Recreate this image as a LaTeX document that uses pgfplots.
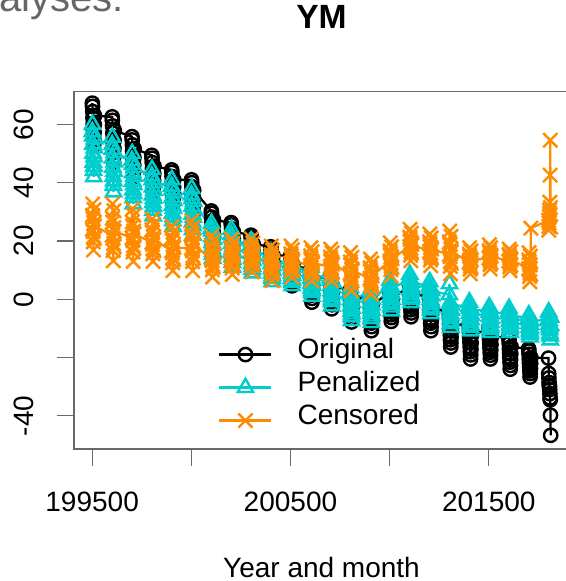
\documentclass[border=0pt]{standalone}
\usepackage{fontspec}
\setmainfont{Liberation Sans}
\usepackage{pgfplots}
\usepackage{pgfplotstable}
\pgfplotsset{compat=1.18}

\definecolor{penc}{RGB}{0,205,205}
\definecolor{cenc}{RGB}{255,140,0}
\definecolor{framec}{RGB}{105,105,105}

% ym = year*100 + month; B = Original, C = Penalized, O = Censored
\pgfplotstableread{
ym B C O
199501 67.3 57.5 24.0
199502 66.2 60.0 28.8
199503 64.4 56.0 32.7
199504 62.2 53.2 27.6
199505 60.2 50.1 23.2
199506 58.1 47.0 19.7
199507 56.1 44.2 16.9
199508 53.0 42.0 21.6
199509 54.7 45.6 26.1
199510 57.3 48.8 30.8
199511 59.9 51.9 20.9
199512 63.0 55.0 25.1
199601 62.6 53.0 22.0
199602 61.4 55.6 27.8
199603 59.5 51.5 32.7
199604 57.0 48.5 26.5
199605 54.8 45.3 21.0
199606 52.6 42.1 16.7
199607 50.4 39.1 13.2
199608 47.0 36.8 19.1
199609 48.9 40.6 24.5
199610 51.7 43.9 30.4
199611 54.5 47.1 18.1
199612 57.9 50.3 23.3
199701 55.8 47.6 21.1
199702 54.7 50.0 26.5
199703 53.0 46.2 31.0
199704 50.8 43.4 25.2
199705 48.9 40.5 20.2
199706 47.0 37.5 16.2
199707 45.0 34.8 13.0
199708 42.0 32.7 18.4
199709 43.7 36.2 23.4
199710 46.1 39.3 28.8
199711 48.6 42.2 17.5
199712 51.7 45.2 22.4
199801 49.4 42.3 19.5
199802 48.4 44.5 23.9
199803 46.9 41.0 27.5
199804 44.9 38.5 22.9
199805 43.2 35.8 18.8
199806 41.5 33.1 15.6
199807 39.7 30.5 13.0
199808 37.0 28.6 17.4
199809 38.5 31.8 21.4
199810 40.7 34.6 25.8
199811 43.0 37.3 16.6
199812 45.7 40.0 20.5
199901 44.4 38.8 16.6
199902 43.5 41.0 21.2
199903 42.1 37.5 25.0
199904 40.3 34.9 20.1
199905 38.7 32.2 15.9
199906 37.1 29.5 12.5
199907 35.5 26.9 9.8
199908 33.0 25.0 14.4
199909 34.4 28.2 18.6
199910 36.4 31.1 23.2
199911 38.5 33.8 13.6
199912 41.0 36.5 17.7
200001 41.0 35.8 17.5
200002 40.0 38.0 22.6
200003 38.6 34.5 26.9
200004 36.7 31.9 21.4
200005 35.0 29.2 16.6
200006 33.3 26.5 12.9
200007 31.6 23.9 9.8
200008 29.0 22.0 14.9
200009 30.4 25.2 19.7
200010 32.6 28.1 24.8
200011 34.8 30.8 14.1
200012 37.4 33.5 18.7
200101 30.3 24.3 13.9
200102 29.5 26.0 18.2
200103 28.2 23.4 21.7
200104 26.6 21.4 17.2
200105 25.2 19.4 13.2
200106 23.7 17.4 10.1
200107 22.3 15.4 7.6
200108 20.0 14.0 11.8
200109 21.2 16.4 15.8
200110 23.1 18.6 20.0
200111 24.9 20.6 11.1
200112 27.2 22.6 14.9
200201 26.3 22.2 14.0
200202 25.5 24.0 17.7
200203 24.2 21.1 20.7
200204 22.6 19.1 16.8
200205 21.2 16.9 13.4
200206 19.7 14.6 10.7
200207 18.3 12.6 8.5
200208 16.0 11.0 12.2
200209 17.2 13.6 15.6
200210 19.1 15.9 19.2
200211 20.9 18.2 11.6
200212 23.2 20.4 14.8
200301 22.0 18.5 14.5
200302 21.2 20.0 17.9
200303 20.0 17.6 20.7
200304 18.4 15.8 17.1
200305 17.0 14.0 13.9
200306 15.6 12.1 11.4
200307 14.2 10.3 9.4
200308 12.0 9.0 12.8
200309 13.2 11.2 16.0
200310 15.0 13.2 19.3
200311 16.8 15.1 12.2
200312 19.0 16.9 15.3
200401 18.0 14.6 11.8
200402 17.2 16.0 15.3
200403 16.0 13.8 18.3
200404 14.4 12.2 14.5
200405 13.0 10.5 11.2
200406 11.6 8.8 8.5
200407 10.2 7.2 6.4
200408 8.0 6.0 10.0
200409 9.2 8.0 13.3
200410 11.0 9.8 16.9
200411 12.8 11.5 9.4
200412 15.0 13.2 12.6
200501 15.0 12.7 12.4
200502 14.2 14.0 15.6
200503 12.9 11.9 18.3
200504 11.3 10.4 14.9
200505 9.8 8.8 11.9
200506 8.3 7.2 9.5
200507 6.9 5.7 7.6
200508 4.6 4.6 10.8
200509 5.8 6.5 13.8
200510 7.7 8.2 17.0
200511 9.6 9.8 10.3
200512 11.9 11.4 13.2
200601 10.0 9.6 11.5
200602 9.1 11.0 14.9
200603 7.8 8.8 17.7
200604 6.0 7.2 14.1
200605 4.5 5.5 10.9
200606 3.0 3.8 8.4
200607 1.4 2.2 6.4
200608 -1.0 1.0 9.8
200609 0.3 3.0 13.0
200610 2.3 4.8 16.3
200611 4.3 6.5 9.2
200612 6.7 8.2 12.3
200701 8.0 7.4 11.3
200702 7.1 9.0 14.5
200703 5.7 6.5 17.2
200704 3.9 4.7 13.7
200705 2.4 2.8 10.7
200706 0.8 0.9 8.3
200707 -0.8 -0.9 6.4
200708 -3.3 -2.3 9.6
200709 -1.9 0.0 12.7
200710 0.1 2.0 15.9
200711 2.1 3.9 9.1
200712 4.6 5.8 12.0
200801 3.0 2.4 8.9
200802 2.1 4.0 12.8
200803 0.8 1.5 16.0
200804 -0.9 -0.3 11.8
200805 -2.4 -2.3 8.2
200806 -3.9 -4.2 5.3
200807 -5.4 -6.0 3.0
200808 -7.8 -7.4 6.9
200809 -6.5 -5.1 10.5
200810 -4.6 -3.1 14.4
200811 -2.6 -1.1 6.3
200812 -0.2 0.8 9.8
200901 1.0 1.5 7.2
200902 0.1 3.0 10.8
200903 -1.4 0.6 13.8
200904 -3.3 -1.2 10.0
200905 -4.9 -3.1 6.6
200906 -6.6 -4.9 4.0
200907 -8.2 -6.7 1.8
200908 -10.8 -8.0 5.4
200909 -9.4 -5.8 8.8
200910 -7.3 -3.8 12.4
200911 -5.1 -2.0 4.8
200912 -2.5 -0.1 8.0
201001 3.0 5.0 13.1
201002 2.2 6.5 16.6
201003 0.9 4.2 19.4
201004 -0.8 2.5 15.8
201005 -2.3 0.7 12.6
201006 -3.8 -1.1 10.1
201007 -5.3 -2.7 8.0
201008 -7.6 -4.0 11.4
201009 -6.3 -1.9 14.6
201010 -4.4 0.0 18.0
201011 -2.5 1.8 10.9
201012 -0.2 3.6 13.9
201101 5.0 7.1 18.1
201102 4.1 8.5 21.3
201103 2.8 6.4 24.0
201104 1.0 4.8 20.5
201105 -0.5 3.2 17.5
201106 -2.0 1.5 15.1
201107 -3.6 0.0 13.2
201108 -6.0 -1.2 16.4
201109 -4.7 0.7 19.5
201110 -2.7 2.5 22.7
201111 -0.7 4.1 15.9
201112 1.7 5.8 18.8
201201 1.0 4.5 16.4
201202 0.1 6.0 19.7
201203 -1.4 3.6 22.4
201204 -3.3 1.8 18.9
201205 -4.9 -0.1 15.9
201206 -6.6 -1.9 13.5
201207 -8.2 -3.7 11.5
201208 -10.8 -5.0 14.8
201209 -9.4 -2.8 17.8
201210 -7.3 -0.8 21.1
201211 -5.1 1.1 14.2
201212 -2.5 2.9 17.2
201301 -5.0 1.5 15.3
201302 -5.9 5.3 19.7
201303 -7.3 -1.4 23.4
201304 -9.1 -3.1 18.7
201305 -10.7 -4.9 14.6
201306 -12.3 -6.7 11.3
201307 -13.9 -8.4 8.7
201308 -16.4 -9.7 13.1
201309 -15.0 -7.6 17.2
201310 -13.0 -5.6 21.6
201311 -10.9 -3.8 12.4
201312 -8.4 -2.0 16.3
201401 -9.0 -2.4 12.8
201402 -9.9 -1.0 15.5
201403 -11.3 -3.2 17.7
201404 -13.1 -4.8 14.8
201405 -14.8 -6.4 12.3
201406 -16.4 -8.1 10.3
201407 -18.0 -9.7 8.7
201408 -20.5 -10.9 11.4
201409 -19.1 -8.9 13.9
201410 -17.1 -7.1 16.6
201411 -15.0 -5.5 11.0
201412 -12.5 -3.8 13.4
201501 -10.0 -3.8 14.1
201502 -10.8 -2.6 16.6
201503 -12.1 -4.5 18.7
201504 -13.8 -5.9 16.0
201505 -15.3 -7.4 13.7
201506 -16.7 -8.9 11.9
201507 -18.2 -10.3 10.4
201508 -20.5 -11.4 12.9
201509 -19.2 -9.6 15.2
201510 -17.4 -8.1 17.7
201511 -15.5 -6.6 12.5
201512 -13.1 -5.1 14.7
201601 -13.0 -4.3 13.1
201602 -13.9 -3.2 15.4
201603 -15.2 -5.0 17.2
201604 -17.0 -6.3 14.8
201605 -18.5 -7.7 12.8
201606 -20.0 -9.1 11.1
201607 -21.6 -10.4 9.8
201608 -24.0 -11.4 12.0
201609 -22.7 -9.8 14.1
201610 -20.7 -8.3 16.3
201611 -18.7 -6.9 11.7
201612 -16.3 -5.5 13.6
201701 -17.0 -6.5 10.5
201702 -17.8 -5.4 13.5
201703 -18.9 -7.1 16.0
201704 -20.5 -8.3 12.8
201705 -21.9 -9.6 10.0
201706 -23.2 -10.9 7.8
201707 -24.6 -12.1 6.0
201708 -26.7 -13.0 9.0
201709 -25.5 -11.5 11.8
201710 -23.8 -10.1 14.8
201711 -22.0 -8.8 8.5
201712 -20.0 -7.5 24.4
201801 -20.2 -7.0 27.1
201802 -25.5 -4.4 23.7
201803 -27.0 -5.5 25.0
201804 -28.6 -7.3 26.2
201805 -29.5 -8.6 28.3
201806 -30.0 -9.5 30.6
201807 -31.0 -10.5 29.5
201808 -32.4 -11.8 33.3
201809 -33.9 -12.6 42.6
201810 -34.5 -14.0 54.6
201811 -39.8 -9.0 31.5
201812 -46.7 -6.2 24.8
}\ymdata

\begin{document}
\begin{tikzpicture}
\useasboundingbox (0,0) rectangle (423.75pt,435.75pt);
% cut-off heading left over from the page above the chart
\node[anchor=base east, text=black!60, inner sep=0pt,
  font=\fontsize{30}{36}\selectfont] at (93pt,426.75pt) {Analyses:};
\begin{axis}[
  at={(55.5pt,99pt)}, anchor=south west,
  scale only axis, width=371.25pt, height=268.1pt,
  xmin=199408.6, xmax=201904.4, ymin=-51.4, ymax=71.3,
  axis line style={framec, line width=0.8pt},
  tick style={framec, line width=0.8pt},
  tick align=outside, major tick length=12.75pt,
  xtick pos=bottom, ytick pos=left,
  scaled x ticks=false, scaled y ticks=false,
  xtick={199500,200000,200500,201000,201500},
  xticklabels={199500,,200500,,201500},
  ytick={-40,-20,0,20,40,60},
  yticklabels={-40,,0,20,40,60},
  ticklabel style={font=\fontsize{21}{25}\selectfont},
  xticklabel style={anchor=base, yshift=-33.75pt},
  yticklabel style={xshift=-18pt, rotate=90, anchor=base},
  title={YM},
  title style={at={(axis description cs:0.5,1)}, anchor=base, yshift=41pt,
    font=\fontsize{25.2}{30}\selectfont\bfseries},
  xlabel={Year and month},
  xlabel style={at={(axis description cs:0.5,0)}, anchor=base, yshift=-96pt,
    font=\fontsize{21}{25}\selectfont},
  legend style={draw=none, fill=none, at={(0.291,0.311)}, anchor=north west,
    inner sep=0pt, row sep=0pt, column sep=18.75pt,
    font=\fontsize{21}{25}\selectfont,
    nodes={inner sep=0pt, text height=15pt, text depth=9.75pt}},
  legend cell align=left,
  legend image code/.code={\draw[mark repeat=2,mark phase=2]
    plot coordinates {(0pt,0pt) (19.5pt,0pt) (39pt,0pt)};},
]
\addplot[black, line width=1.7pt, mark=o, mark size=5pt,
  mark options={solid, line width=1.8pt}] table[x=ym, y=B] {\ymdata};
\addlegendentry{Original}
\addplot[penc, line width=1.7pt, mark=triangle, mark size=6.6pt,
  mark options={solid, line width=1.8pt}] table[x=ym, y=C] {\ymdata};
\addlegendentry{Penalized}
\addplot[cenc, line width=1.7pt, mark=x, mark size=7.5pt,
  mark options={solid, line width=1.8pt}] table[x=ym, y=O] {\ymdata};
\addlegendentry{Censored}
\end{axis}
\end{tikzpicture}
\end{document}
